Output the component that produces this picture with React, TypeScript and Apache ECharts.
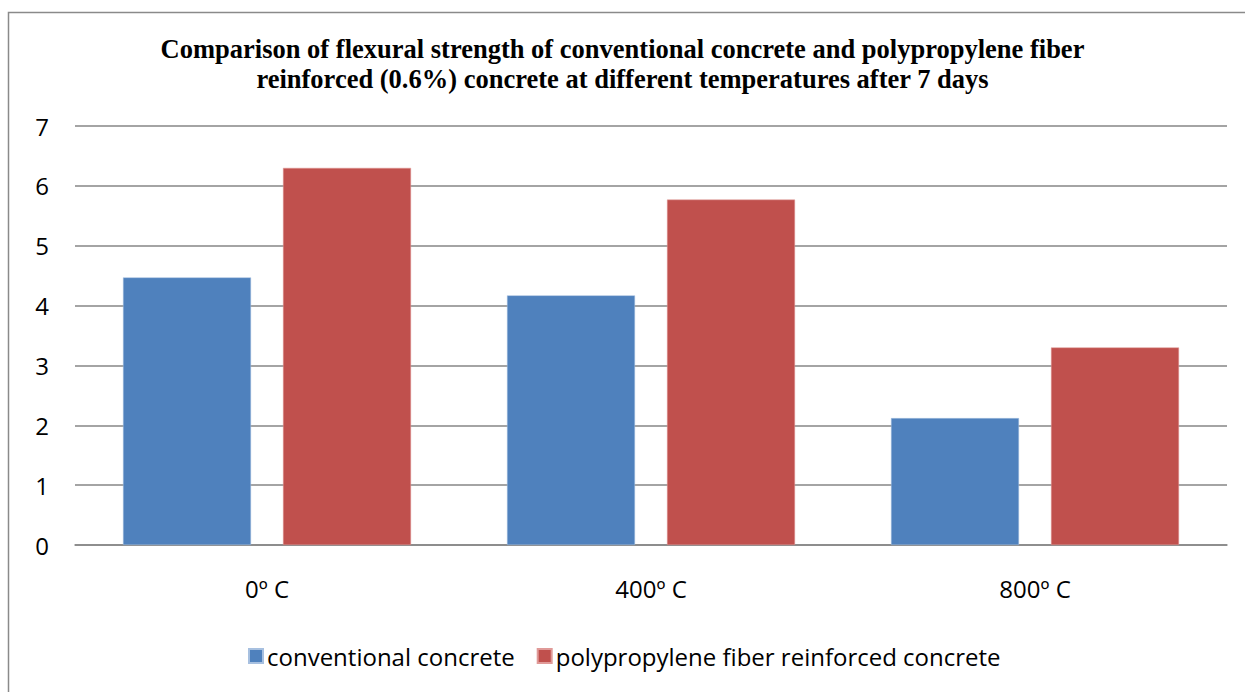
import React, { useEffect, useRef } from "react";
import * as echarts from "echarts";

const categories = ["0º C", "400º C", "800º C"];
const conventional = [4.47, 4.17, 2.12];
const polypropylene = [6.3, 5.77, 3.3];
const seriesNames = ["conventional concrete", "polypropylene fiber reinforced concrete"];
const titleText =
  "Comparison of flexural strength of conventional concrete and polypropylene fiber\nreinforced (0.6%) concrete at different temperatures after 7 days";

export default function App() {
  const ref = useRef<HTMLDivElement>(null);
  useEffect(() => {
    if (!ref.current) return;
    const chart = echarts.init(ref.current, null, { renderer: "svg" });
    const labelFont = "'Open Sans', 'Liberation Sans', sans-serif";
    chart.setOption({
      animation: false,
      backgroundColor: "#ffffff",
      title: {
        text: titleText,
        left: "center",
        top: 29,
        textStyle: {
          fontFamily: "'Liberation Serif', 'Times New Roman', serif",
          fontWeight: "bold",
          fontSize: 26.5,
          lineHeight: 30,
          color: "#000",
        },
      },
      graphic: [
        {
          type: "rect",
          shape: { x: 8.5, y: 12.5, width: 1250, height: 700 },
          style: { fill: "none", stroke: "#8a8a8a", lineWidth: 1.5 },
          silent: true,
        },
      ],
      legend: {
        top: 639,
        left: 243,
        itemWidth: 14,
        itemHeight: 14,
        itemGap: 22,
        icon: "rect",
        textStyle: { fontFamily: labelFont, fontSize: 24, color: "#000", padding: [0, 0, 0, -1] },
        data: seriesNames,
      },
      grid: {
        left: 75,
        right: 18,
        top: 126,
        bottom: 147,
        containLabel: false,
        outerBoundsMode: "none",
      },
      xAxis: {
        type: "category",
        data: categories,
        axisLine: { show: true, lineStyle: { color: "#868686", width: 1.5 } },
        axisTick: { show: false },
        axisLabel: { fontFamily: labelFont, fontSize: 24, color: "#000", margin: 31 },
      },
      yAxis: {
        type: "value",
        min: 0,
        max: 7,
        interval: 1,
        axisLine: { show: false },
        axisTick: { show: false },
        axisLabel: { fontFamily: labelFont, fontSize: 24, color: "#000", margin: 26 },
        splitLine: { lineStyle: { color: "#868686", width: 1.5 } },
      },
      series: [
        {
          name: seriesNames[0],
          type: "bar",
          data: conventional,
          barGap: "25%",
          barCategoryGap: "25%",
          itemStyle: { color: "#4f81bd", borderColor: "#a7c0e0", borderWidth: 0.5 },
        },
        {
          name: seriesNames[1],
          type: "bar",
          data: polypropylene,
          barGap: "25%",
          barCategoryGap: "25%",
          itemStyle: { color: "#c0504d", borderColor: "#e09a98", borderWidth: 0.5 },
        },
      ],
    });
    return () => chart.dispose();
  }, []);
  return <div ref={ref} style={{ width: 1245, height: 692, position: "absolute", left: 0, top: 0 }} />;
}
